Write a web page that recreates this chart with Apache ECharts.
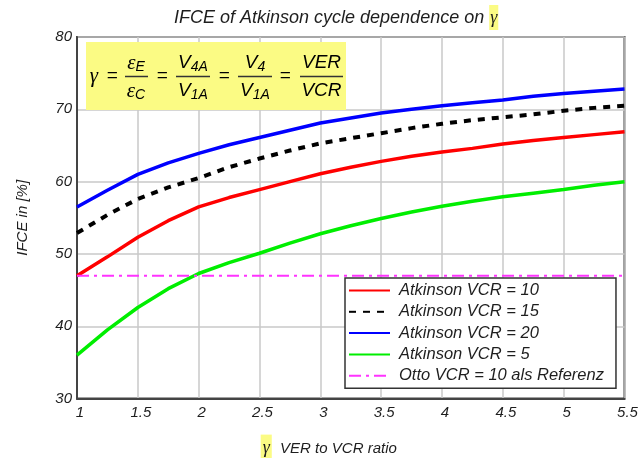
<!DOCTYPE html>
<html>
<head>
<meta charset="utf-8">
<script src="https://cdn.jsdelivr.net/npm/echarts@6/dist/echarts.min.js"></script>
<style>
  html, body { margin: 0; padding: 0; background: #ffffff; }
  #chart { width: 639px; height: 458px; }
</style>
</head>
<body>
<div id="chart"></div>
<script>
// Expansion-to-compression ratio (gamma = VER / VCR)
const gammaValues = [1, 1.25, 1.5, 1.75, 2, 2.25, 2.5, 2.75, 3, 3.25, 3.5, 3.75, 4, 4.25, 4.5, 4.75, 5, 5.25, 5.5];

// Indicated fuel conversion efficiency in % for each compression ratio
const ifceVcr10 = [47.0, 49.6, 52.3, 54.6, 56.5, 57.8, 58.9, 60.0, 61.1, 62.0, 62.8, 63.5, 64.1, 64.6, 65.2, 65.7, 66.1, 66.5, 66.9];
const ifceVcr15 = [52.9, 55.4, 57.6, 59.2, 60.5, 62.0, 63.2, 64.3, 65.3, 66.0, 66.7, 67.4, 68.0, 68.5, 68.9, 69.3, 69.8, 70.2, 70.5];
const ifceVcr20 = [56.5, 58.8, 61.0, 62.6, 63.9, 65.1, 66.1, 67.1, 68.1, 68.8, 69.5, 70.0, 70.5, 70.9, 71.3, 71.8, 72.2, 72.5, 72.8];
const ifceVcr5  = [36.0, 39.5, 42.6, 45.2, 47.3, 48.8, 50.1, 51.5, 52.8, 53.9, 54.9, 55.8, 56.6, 57.3, 57.9, 58.4, 58.9, 59.5, 60.0];

// Otto cycle reference (VCR = 10), constant over gamma
const ottoReference = [47.0, 47.0];
const ottoGamma = [1, 5.5];

const seriesNames = [
  'Atkinson VCR = 10',
  'Atkinson VCR = 15',
  'Atkinson VCR = 20',
  'Atkinson VCR = 5',
  'Otto VCR = 10 als Referenz'
];

const xTicks = { min: 1, max: 5.5, step: 0.5 };
const yTicks = { min: 30, max: 80, step: 10 };

const FONT = 'Liberation Sans, Arial, sans-serif';
const SERIF = 'Liberation Serif, Times New Roman, serif';
const HIGHLIGHT = '#fbfb84';
const INK = '#1e1e1e';

function pairs(xs, ys) {
  return xs.map((x, i) => [x, ys[i]]);
}

function curve(name, xs, ys, color, extra) {
  return Object.assign({
    name: name,
    type: 'line',
    data: pairs(xs, ys),
    showSymbol: false,
    symbol: 'none',
    smooth: false,
    lineStyle: { color: color, width: 3.5 },
    itemStyle: { color: color },
    emphasis: { disabled: true },
    animation: false
  }, extra || {});
}

// Formula block:  gamma = eps_E/eps_C = V4A/V1A = V4/V1A = VER/VCR
const richMath = {
  m: { fontSize: 19, fontStyle: 'italic', fontWeight: 'normal', fontFamily: FONT, color: INK, lineHeight: 22, verticalAlign: 'middle' },
  e: { fontSize: 21, fontStyle: 'italic', fontWeight: 'normal', fontFamily: SERIF, color: INK, lineHeight: 22, verticalAlign: 'middle' },
  s: { fontSize: 14, fontStyle: 'italic', fontWeight: 'normal', fontFamily: FONT, color: INK, lineHeight: 14, verticalAlign: 'bottom' }
};

function mathText(x, y, text) {
  return {
    type: 'text', x: x, y: y, silent: true, z: 20,
    style: { text: text, rich: richMath, align: 'center', verticalAlign: 'middle' }
  };
}

function fractionBar(x1, x2, y) {
  return {
    type: 'line', silent: true, z: 20,
    shape: { x1: x1, y1: y, x2: x2, y2: y },
    style: { stroke: '#333333', lineWidth: 1.5 }
  };
}

const numY = 63, denY = 91, barY = 76.5;
const formula = [
  { type: 'rect', silent: true, z: 15, shape: { x: 86, y: 42, width: 260, height: 68 }, style: { fill: HIGHLIGHT } },
  mathText(94, barY, '{e|γ}'),
  mathText(112, barY - 1, '{m|=}'),
  mathText(136, numY, '{e|ε}{s|E}'),
  mathText(136, denY, '{e|ε}{s|C}'),
  fractionBar(125, 148, barY),
  mathText(162, barY - 1, '{m|=}'),
  mathText(193, numY, '{m|V}{s|4A}'),
  mathText(193, denY, '{m|V}{s|1A}'),
  fractionBar(176, 210, barY),
  mathText(224, barY - 1, '{m|=}'),
  mathText(255, numY, '{m|V}{s|4}'),
  mathText(255, denY, '{m|V}{s|1A}'),
  fractionBar(238, 272, barY),
  mathText(285, barY - 1, '{m|=}'),
  mathText(321.5, numY, '{m|VER}'),
  mathText(321.5, denY, '{m|VCR}'),
  fractionBar(300, 343, barY)
];

const chart = echarts.init(document.getElementById('chart'), null, { renderer: 'canvas' });

chart.setOption({
  backgroundColor: '#ffffff',
  animation: false,
  title: {
    text: '{t|IFCE of Atkinson cycle dependence on }{g|γ}',
    left: 174,
    top: 5,
    padding: 0,
    textStyle: {
      fontWeight: 'normal',
      rich: {
        t: { fontSize: 18, fontStyle: 'italic', fontWeight: 'normal', fontFamily: FONT, color: INK },
        g: { fontSize: 18, fontStyle: 'italic', fontWeight: 'normal', fontFamily: SERIF, color: INK, backgroundColor: HIGHLIGHT, padding: [4, 1, 3, 1] }
      }
    }
  },
  grid: {
    left: 77, right: 14.5, top: 37, bottom: 59.4,
    outerBoundsMode: 'none',
    show: true, borderColor: '#444444', borderWidth: 2, backgroundColor: '#ffffff'
  },
  legend: {
    orient: 'vertical',
    left: 345, top: 278,
    padding: [2, 12, 2, 3],
    itemWidth: 41, itemHeight: 14, itemGap: 0.3,
    itemStyle: { opacity: 0, borderWidth: 0 },
    backgroundColor: '#ffffff',
    borderColor: '#333333', borderWidth: 1.5, borderRadius: 0,
    selectedMode: false,
    data: seriesNames,
    textStyle: { fontSize: 16.5, fontStyle: 'italic', fontFamily: FONT, color: INK, lineHeight: 21, padding: [0, 0, 0, 4] }
  },
  xAxis: {
    type: 'value',
    min: xTicks.min, max: xTicks.max, interval: xTicks.step,
    name: '{g|γ}{t|  VER to VCR ratio}',
    nameLocation: 'middle',
    nameGap: 36,
    nameTextStyle: {
      padding: [0, 44, 0, 0],
      rich: {
        t: { fontSize: 15, fontStyle: 'italic', fontFamily: FONT, color: INK },
        g: { fontSize: 18, fontStyle: 'italic', fontFamily: SERIF, color: INK, backgroundColor: HIGHLIGHT, padding: [5, 2, 5, 2] }
      }
    },
    axisLine: { show: true, lineStyle: { color: '#444444', width: 2 } },
    axisTick: { show: false },
    axisLabel: { fontSize: 15, fontStyle: 'italic', fontFamily: FONT, color: INK, margin: 7, padding: [0, 0, 0, 6] },
    splitLine: { show: true, lineStyle: { color: '#c8c8c8', width: 1.5 } }
  },
  yAxis: {
    type: 'value',
    min: yTicks.min, max: yTicks.max, interval: yTicks.step,
    name: 'IFCE in [%]',
    nameLocation: 'middle',
    nameGap: 47,
    nameTextStyle: { fontSize: 15, fontStyle: 'italic', fontFamily: FONT, color: INK },
    axisLine: { show: true, lineStyle: { color: '#444444', width: 2 } },
    axisTick: { show: false },
    axisLabel: { fontSize: 15, fontStyle: 'italic', fontFamily: FONT, color: INK, margin: 5, padding: [0, 0, 4, 0] },
    splitLine: { show: true, lineStyle: { color: '#c8c8c8', width: 1.5 } }
  },
  series: [
    curve(seriesNames[0], gammaValues, ifceVcr10, '#ff0000'),
    curve(seriesNames[1], gammaValues, ifceVcr15, '#000000', { lineStyle: { color: '#000000', width: 4, type: [7, 7] } }),
    curve(seriesNames[2], gammaValues, ifceVcr20, '#0000ff'),
    curve(seriesNames[3], gammaValues, ifceVcr5, '#00ee00'),
    curve(seriesNames[4], ottoGamma, ottoReference, '#ff33ff', { lineStyle: { color: '#ff33ff', width: 2, type: [12, 5, 3, 5] } })
  ],
  graphic: formula
});
</script>
</body>
</html>
